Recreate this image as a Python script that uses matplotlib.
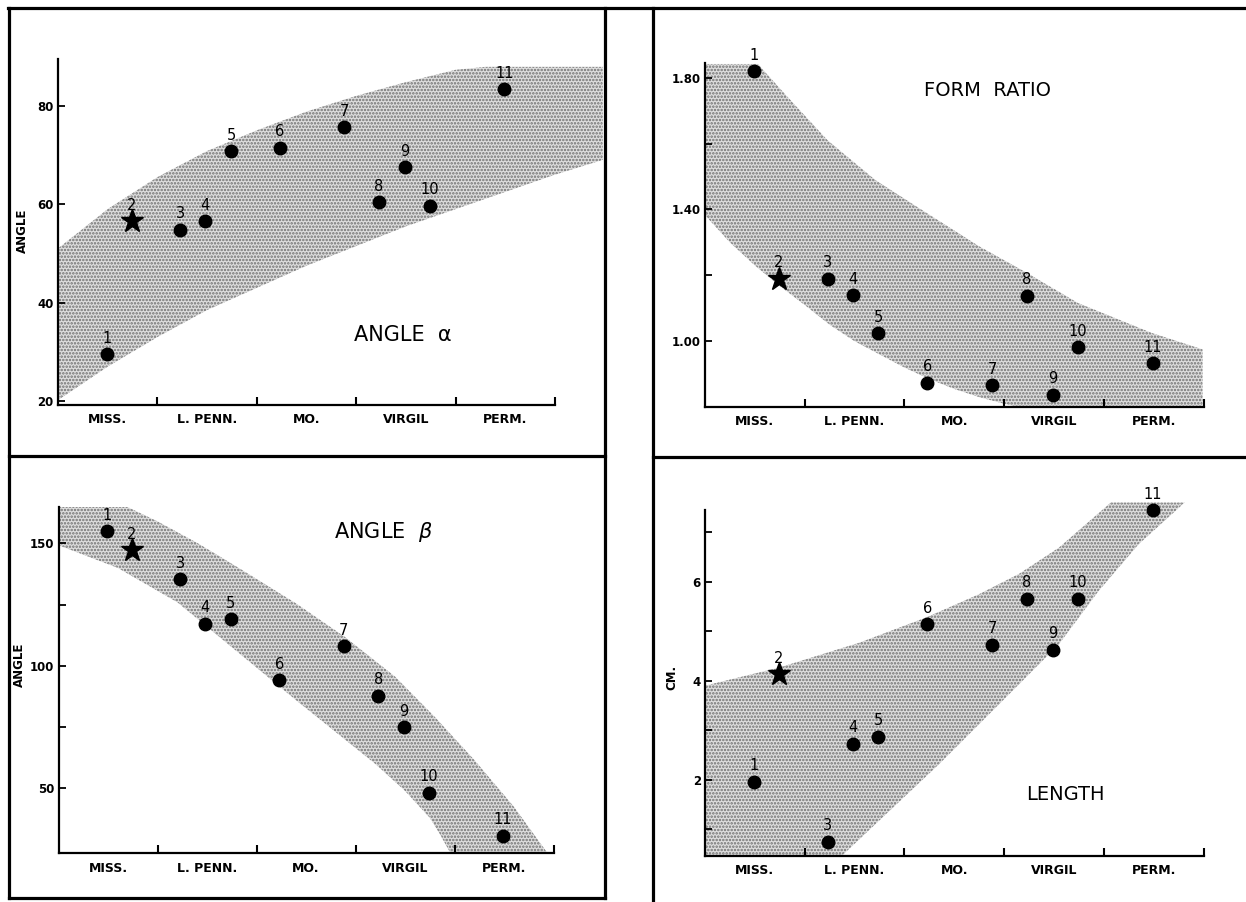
import numpy as np
import matplotlib.pyplot as plt
from matplotlib.lines import Line2D

plt.rcParams['font.family'] = ['DejaVu Sans']
plt.rcParams['hatch.linewidth'] = 1.2

W, H = 1246, 902

# périodes (axe x) et position des spécimens
periods = ['MISS.', 'L. PENN.', 'MO.', 'VIRGIL', 'PERM.']
specimens = [str(i) for i in range(1, 12)]
xpos = [0.49, 0.74, 1.23, 1.48, 1.74, 2.23, 2.88, 3.23, 3.49, 3.74, 4.49]

# valeurs mesurées
angle_a = [29.5, 56.6, 54.8, 56.6, 70.8, 71.5, 75.6, 60.4, 67.5, 59.7, 83.4]
form_ratio = [1.82, 1.19, 1.19, 1.14, 1.025, 0.874, 0.867, 1.138, 0.837, 0.982, 0.933]
angle_b = [155, 147.3, 135.4, 117.3, 119.0, 94.3, 108.0, 87.8, 75.1, 48.2, 30.7]
length = [1.96, 4.14, 0.75, 2.73, 2.87, 5.15, 4.73, 5.66, 4.63, 5.66, 7.45]

# bandes grisées : bord supérieur (gauche -> droite) puis bord inférieur (droite -> gauche)
band_a_x = [0, 0.5, 1.0, 1.5, 2.0, 2.5, 3.0, 3.5, 4.0, 4.3, 5.48,
            5.48, 5.0, 4.5, 4.0, 3.5, 3.0, 2.5, 2.0, 1.5, 1.0, 0.5, 0]
band_a_y = [51, 59, 65.5, 70.8, 75, 78.8, 82, 84.8, 87.3, 87.9, 87.9,
            69, 66, 62.5, 59, 55.5, 51.5, 47.5, 43, 38.5, 33, 27, 20.2]

band_f_x = [0, 0.53, 0.83, 1.23, 1.71, 2.23, 2.75, 3.23, 3.74, 4.48, 4.99,
            4.99, 3.15, 3.0, 2.75, 2.5, 2.25, 2.0, 1.75, 1.5, 1.25, 1.0, 0.74, 0.5, 0.25, 0]
band_f_y = [1.842, 1.842, 1.741, 1.61, 1.489, 1.388, 1.288, 1.207, 1.116, 1.025, 0.975,
            0.80, 0.80, 0.81, 0.83, 0.855, 0.885, 0.92, 0.96, 1.0, 1.05, 1.11, 1.17, 1.23, 1.30, 1.383]

band_b_x = [0, 0.69, 1.01, 1.41, 1.80, 2.40, 2.89, 3.40, 3.80, 4.20, 4.60, 4.94,
            3.96, 3.85, 3.75, 3.5, 3.2, 2.8, 2.4, 1.8, 1.2, 0.6, 0]
band_b_y = [165, 165, 158.8, 150, 140.5, 125.5, 111.9, 95.6, 79.2, 61.6, 42.5, 23.5,
            23.5, 31.5, 38, 49, 60, 73, 86, 106, 126, 140, 149.3]

band_l_x = [0, 0.75, 1.55, 2.22, 2.75, 3.15, 3.55, 4.07, 4.81,
            4.35, 3.95, 3.55, 3.15, 2.35, 1.37, 0]
band_l_y = [3.90, 4.27, 4.77, 5.28, 5.75, 6.16, 6.69, 7.60, 7.60,
            6.76, 5.82, 4.74, 3.93, 2.32, 0.46, 0.46]

fig = plt.figure(figsize=(W / 100, H / 100), dpi=100)


def px_axes(left, top, right, bottom):
    return fig.add_axes([left / W, 1 - bottom / H, (right - left) / W, (bottom - top) / H])


def fline(x0, y0, x1, y1):
    fig.add_artist(Line2D([x0 / W, x1 / W], [1 - y0 / H, 1 - y1 / H],
                          transform=fig.transFigure, color='black', lw=2.3))


def panel(ax, xmax, ylim, yticks, ylabels, yminor, vals, bx, by, ybounds=None):
    ax.fill(bx, by, facecolor='#dedede', edgecolor='#707070', linewidth=0,
            hatch='.....', zorder=1)
    for i, (x, v) in enumerate(zip(xpos, vals)):
        if i == 1:
            ax.plot(x, v, marker='*', ms=17, color='black', zorder=3)
        else:
            ax.plot(x, v, marker='o', ms=9, color='black', zorder=3)
        ax.annotate(specimens[i], (x, v), xytext=(0, 6), textcoords='offset points',
                    ha='center', va='bottom', fontsize=10.5, zorder=4)
    ax.set_xlim(0, xmax)
    ax.set_ylim(*ylim)
    ax.patch.set_alpha(0)
    for s in ['top', 'right']:
        ax.spines[s].set_visible(False)
    for s in ['left', 'bottom']:
        ax.spines[s].set_linewidth(1.6)
    ax.spines['bottom'].set_bounds(0, 5)
    if ybounds:
        ax.spines['left'].set_bounds(*ybounds)
    ax.set_xticks([1, 2, 3, 4, 5])
    ax.set_xticklabels([])
    ax.set_xticks(np.arange(5) + 0.5, minor=True)
    ax.set_xticklabels(periods, minor=True, fontsize=9, fontweight='bold')
    ax.tick_params(axis='x', which='minor', length=0, pad=6)
    ax.tick_params(axis='x', which='major', direction='in', length=6, width=1.5)
    ax.set_yticks(yticks)
    ax.set_yticklabels(ylabels, fontsize=8.5, fontweight='bold')
    if yminor:
        ax.set_yticks(yminor, minor=True)
    ax.tick_params(axis='y', which='both', direction='in', length=5, width=1.3, pad=3)


ax1 = px_axes(58, 59, 602.7, 405)
panel(ax1, 5.48, (19.2, 89.5), [20, 40, 60, 80], ['20', '40', '60', '80'], None,
      angle_a, band_a_x, band_a_y)

ax2 = px_axes(705, 63, 1205.5, 407)
panel(ax2, 5.02, (0.80, 1.845), [1.0, 1.4, 1.8], ['1.00', '1.40', '1.80'], [1.2, 1.6],
      form_ratio, band_f_x, band_f_y)

ax3 = px_axes(58.5, 506.7, 555.5, 853.3)
panel(ax3, 5.02, (23.5, 165), [50, 100, 150], ['50', '100', '150'], [75, 125],
      angle_b, band_b_x, band_b_y)

ax4 = px_axes(705, 500.1, 1205.5, 856)
panel(ax4, 5.02, (0.46, 7.65), [2, 4, 6], ['2', '4', '6'], [1, 3, 5, 7],
      length, band_l_x, band_l_y, ybounds=(0.46, 7.44))

# titres des panneaux
fig.text(403 / W, 1 - 335 / H, 'ANGLE  α', fontsize=15, ha='center', va='center')
fig.text(987 / W, 1 - 90 / H, 'FORM  RATIO', fontsize=14, ha='center', va='center')
fig.text(383 / W, 1 - 532 / H, 'ANGLE  $\\beta$', fontsize=15, ha='center', va='center')
fig.text(1065 / W, 1 - 795 / H, 'LENGTH', fontsize=14, ha='center', va='center')

# étiquettes des axes y
fig.text(22 / W, 1 - 231 / H, 'ANGLE', rotation=90, fontsize=8.5, fontweight='bold',
         ha='center', va='center')
fig.text(19 / W, 1 - 665 / H, 'ANGLE', rotation=90, fontsize=8.5, fontweight='bold',
         ha='center', va='center')
fig.text(672 / W, 1 - 677 / H, 'CM.', rotation=90, fontsize=8.5, fontweight='bold',
         ha='center', va='center')

# cadres
fline(8, 8, 1246, 8)
fline(9, 8, 9, 898)
fline(605, 8, 605, 898)
fline(653, 8, 653, 902)
fline(9, 456, 605, 456)
fline(653, 457, 1246, 457)
fline(9, 898, 605, 898)

fig.savefig('out.png', dpi=100)
